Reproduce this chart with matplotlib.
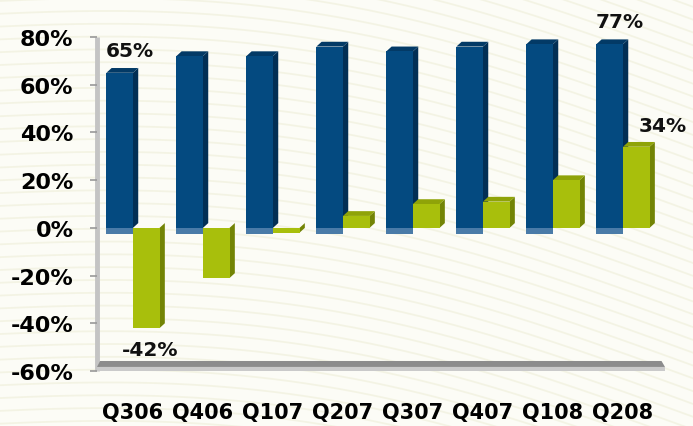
import numpy as np
import matplotlib
matplotlib.use("Agg")
import matplotlib.pyplot as plt
from matplotlib.patches import Polygon

categories = ["Q306", "Q406", "Q107", "Q207", "Q307", "Q407", "Q108", "Q208"]
blue_vals = [65, 72, 72, 76, 74, 76, 77, 77]
green_vals = [-42, -21, -2, 5, 10, 11, 20, 34]
yticks = [-60, -40, -20, 0, 20, 40, 60, 80]
labels_shown = {("blue", 0): "65%", ("blue", 7): "77%",
                ("green", 0): "-42%", ("green", 7): "34%"}

BLUE = "#044a80"
BLUE_SIDE = "#022f55"
BLUE_TOP = "#033a66"
BLUE_BASE = "#4a7ba8"
GREEN = "#a8bf0c"
GREEN_SIDE = "#738405"
GREEN_TOP = "#8fa308"
BG = "#fcfcf6"

FONT = "DejaVu Sans"

fig = plt.figure(figsize=(6.93, 4.27), dpi=100, facecolor=BG)

# faint wavy background texture
bgax = fig.add_axes([0, 0, 1, 1], zorder=-10)
bgax.set_xlim(0, 1)
bgax.set_ylim(0, 1)
bgax.axis("off")
t = np.linspace(0, 1, 300)
for k in range(-30, 45):
    y0 = k * 0.03
    curve = y0 + 0.12 * np.sin(np.pi * t * 0.9 + 0.3) - 0.25 * t
    bgax.plot(t, curve, color="#f3f3e2", lw=1.3, alpha=0.9)

ax = fig.add_axes([97 / 693, 1 - 372 / 427, (665 - 97) / 693, (372 - 38) / 427])
ax.set_facecolor("none")
ax.set_xlim(-0.514, 7.6)
ax.set_ylim(-60, 80)
for s in ax.spines.values():
    s.set_visible(False)

x = np.arange(len(categories))
w = 0.38
off = 0.19
dx = 0.075
dy = 2.0


def bar3d(xc, val, front, side, top, z):
    x0, x1 = xc - w / 2, xc + w / 2
    ax.bar(xc, val, width=w, color=front, zorder=z, linewidth=0)
    ax.add_patch(Polygon([(x1, 0), (x1 + dx, dy), (x1 + dx, val + dy), (x1, val)],
                         closed=True, facecolor=side, edgecolor="none", zorder=z - 0.5))
    if val >= 0:
        ax.add_patch(Polygon([(x0, val), (x1, val), (x1 + dx, val + dy), (x0 + dx, val + dy)],
                             closed=True, facecolor=top, edgecolor="none", zorder=z - 0.5))


for i in range(len(categories)):
    xb = x[i] - off
    bar3d(xb, blue_vals[i], BLUE, BLUE_SIDE, BLUE_TOP, 3)
    ax.bar(xb, -2.4, width=w, color=BLUE_BASE, zorder=2.9, linewidth=0)
    xg = x[i] + off
    bar3d(xg, green_vals[i], GREEN, GREEN_SIDE, GREEN_TOP, 4)

# data labels
lab_kw = dict(fontsize=14.5, fontweight="bold", family=FONT, color="#111111", zorder=6)
ax.text(x[0] - off - w / 2 - 0.01, blue_vals[0] + 5.5, labels_shown[("blue", 0)],
        ha="left", va="bottom", **lab_kw)
ax.text(x[7] - off - w / 2 - 0.01, blue_vals[7] + 5.5, labels_shown[("blue", 7)],
        ha="left", va="bottom", **lab_kw)
ax.text(x[7] + off + 0.38, green_vals[7] + 5, labels_shown[("green", 7)],
        ha="center", va="bottom", **lab_kw)
ax.text(x[0] + off + 0.05, green_vals[0] - 5, labels_shown[("green", 0)],
        ha="center", va="top", **lab_kw)

# y axis line (3D wall edge) and floor
ax.plot([-0.514, -0.514], [-60, 80], color="#c4c4c4", lw=3.5, zorder=1,
        solid_capstyle="butt", clip_on=False)
ax.add_patch(Polygon([(-0.514, -58.3), (7.6, -58.3), (7.55, -55.8), (-0.47, -55.8)],
                     closed=True, facecolor="#8c8c8c", edgecolor="none", zorder=1, clip_on=False))
ax.add_patch(Polygon([(-0.514, -60), (7.6, -60), (7.6, -58.3), (-0.514, -58.3)],
                     closed=True, facecolor="#cacaca", edgecolor="none", zorder=1, clip_on=False))

ax.set_yticks(yticks)
ax.set_yticklabels([f"{v}%" for v in yticks], fontsize=16, fontweight="bold", family=FONT)
ax.tick_params(axis="y", length=5, width=1.2, color="#999999", pad=12)
ax.set_xticks(x)
ax.set_xticklabels(categories, fontsize=15, fontweight="bold", family=FONT)
ax.tick_params(axis="x", length=0, pad=22)

fig.savefig("out.png", dpi=100, facecolor=BG)
